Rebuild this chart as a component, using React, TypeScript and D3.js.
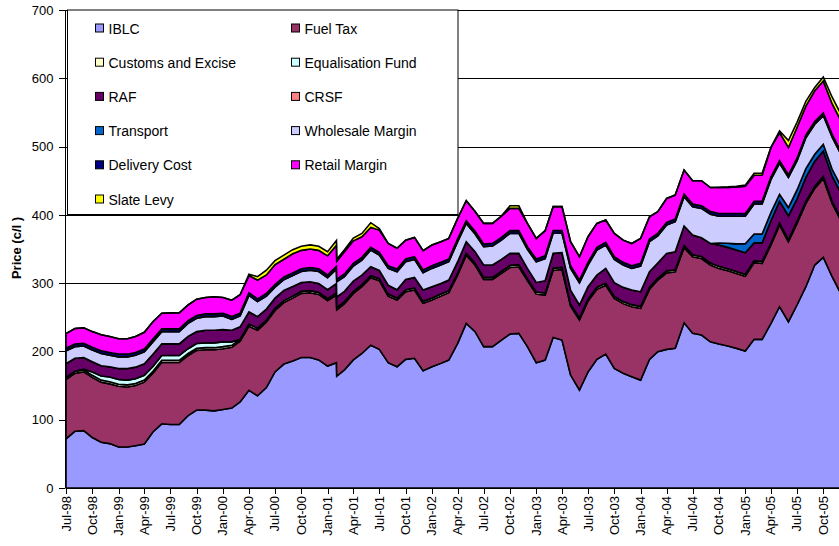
import React from "react";
import * as d3 from "d3";

// price build-up, cents per litre, monthly (Feb-01 has two entries)
const dates = [
  "1998-07-01", "1998-08-01", "1998-09-01", "1998-10-01", "1998-11-01", "1998-12-01",
  "1999-01-01", "1999-02-01", "1999-03-01", "1999-04-01", "1999-05-01", "1999-06-01",
  "1999-07-01", "1999-08-01", "1999-09-01", "1999-10-01", "1999-11-01", "1999-12-01",
  "2000-01-01", "2000-02-01", "2000-03-01", "2000-04-01", "2000-05-01", "2000-06-01",
  "2000-07-01", "2000-08-01", "2000-09-01", "2000-10-01", "2000-11-01", "2000-12-01",
  "2001-01-01", "2001-02-01", "2001-02-02", "2001-03-01", "2001-04-01", "2001-05-01",
  "2001-06-01", "2001-07-01", "2001-08-01", "2001-09-01", "2001-10-01", "2001-11-01",
  "2001-12-01", "2002-01-01", "2002-02-01", "2002-03-01", "2002-04-01", "2002-05-01",
  "2002-06-01", "2002-07-01", "2002-08-01", "2002-09-01", "2002-10-01", "2002-11-01",
  "2002-12-01", "2003-01-01", "2003-02-01", "2003-03-01", "2003-04-01", "2003-05-01",
  "2003-06-01", "2003-07-01", "2003-08-01", "2003-09-01", "2003-10-01", "2003-11-01",
  "2003-12-01", "2004-01-01", "2004-02-01", "2004-03-01", "2004-04-01", "2004-05-01",
  "2004-06-01", "2004-07-01", "2004-08-01", "2004-09-01", "2004-10-01", "2004-11-01",
  "2004-12-01", "2005-01-01", "2005-02-01", "2005-03-01", "2005-04-01", "2005-05-01",
  "2005-06-01", "2005-07-01", "2005-08-01", "2005-09-01", "2005-10-01", "2005-11-01",
  "2005-12-01",
];

const iblc = [
  72, 83, 84, 74, 67, 65, 60, 60, 62, 64.5, 82, 94, 93, 93, 106, 114, 114, 113, 115, 117,
  126, 143, 135, 147, 170, 181.5, 186, 191, 191, 187.5, 178.6, 183.5, 164,
  173, 187.5, 197, 209, 203, 183.5, 177.6, 188.4,
  190, 171.8, 177.6, 182.5, 187.4, 211.8, 241, 228.9, 207, 207,
  216.7, 225.5, 226.5, 207, 183.5, 187.4, 220.6, 216.7, 165.4, 143.5,
  170, 188.4, 196, 175, 168, 163, 158, 188.4, 199.6, 203,
  204.5, 242, 226.5, 224, 214, 210.8, 208, 204.5, 200.6, 217.7,
  217.7, 241, 265.5, 243.5, 268, 294.8, 326.5, 337.7, 309.4, 285,
];

const fuelTax = [
  87, 85, 86, 88, 88, 87.5, 89, 88, 88, 90.5, 86, 90, 91, 91, 88, 87.5, 88.5, 89.5, 89, 89,
  89, 94, 96, 96, 90, 90, 92, 94, 95, 96, 96, 99, 97,
  97, 97.5, 97.8, 99, 100.6, 97.5, 97.7, 99.1,
  100, 98.6, 97.7, 98.5, 98.6, 100.1, 100, 97.6, 98.5, 98.5,
  97.6, 97.5, 97.5, 96.6, 100.5, 95.2, 98.4, 103.3, 101.1, 102.5,
  104, 102.6, 101, 102.7, 102, 102.5, 105, 102.6, 104.9, 112,
  112.2, 110, 112.2, 112, 112.5, 110.8, 110, 109.5, 109.4, 112.3,
  111.3, 114.8, 119.5, 117.2, 119.5, 122, 112.2, 115.7, 107.4, 107.4,
];

const customs = [
  3, 3, 3, 3, 3, 3, 3, 3, 3, 3, 3, 3, 3, 3, 3, 3, 3, 3, 3, 3,
  3, 3, 3, 3, 3, 3, 3, 3, 3, 3, 3, 3, 3,
  3, 3, 3, 3, 3, 3, 3, 3,
  3, 3, 3, 3, 3, 3, 3, 3, 3, 3,
  3, 3, 3, 3, 3, 3, 3, 3, 3, 3,
  3, 3, 3, 3, 3, 3, 3, 3, 3, 3,
  3, 3, 3, 3, 3, 3, 3, 3, 3, 3,
  3, 3, 3, 3, 3, 3, 3, 3, 3, 3,
];

const equalisation = [
  0, 0, 1, 5, 6, 7, 7, 7, 7, 7, 7, 7, 7, 7, 7, 7, 7, 7, 7, 5,
  0, 0, 0, 0, 0, 0, 0, 0, 0, 0, 0, 0, 0,
  0, 0, 0, 0, 0, 0, 0, 0,
  0, 0, 0, 0, 0, 0, 0, 0, 0, 0,
  0, 0, 0, 0, 0, 0, 0, 0, 0, 0,
  0, 0, 0, 0, 0, 0, 0, 0, 0, 0,
  0, 0, 0, 0, 0, 0, 0, 0, 0, 0,
  0, 0, 0, 0, 0, 0, 0, 0, 0, 0,
];

const raf = [
  20, 19, 17, 15, 15, 15, 16, 17, 17, 17, 18, 17, 17, 17, 18, 17.5, 18.5, 18.5, 18, 17,
  18, 18, 17, 16, 15, 15, 14, 13, 13, 13, 13, 14, 16,
  15, 15, 14, 13, 12, 13, 12, 15,
  15.4, 16.6, 16.5, 15.6, 15.5, 16.5, 16.7, 16.5, 18, 18,
  17.5, 17.6, 16.6, 15, 14, 18, 21.6, 21.6, 20.4, 19,
  17.8, 17.9, 21.6, 19.9, 20.8, 21.5, 21.5, 22.7, 22, 25.6,
  26.3, 28.6, 28.7, 27.5, 28.5, 31.2, 31.4, 31.5, 31.6, 26,
  27, 33, 32, 35, 33, 35, 37, 37, 37, 37,
];

const crsf = [
  0, 0, 0, 0, 0, 0, 0, 0, 0, 0, 0, 0, 0, 0, 0, 0, 0, 0, 0, 0,
  0, 0, 0, 0, 0, 0, 0, 0, 0, 0, 0, 0, 0,
  0, 0, 0, 0, 0, 0, 0, 0,
  0, 0, 0, 0, 0, 0, 0, 0, 0, 0,
  0, 0, 0, 0, 0, 0, 0, 0, 0, 0,
  0, 0, 0, 0, 0, 0, 0, 0, 0, 0,
  0, 0, 0, 0, 0, 0, 0, 0, 0, 0,
  0, 0, 0, 0, 0, 0, 0, 0, 0, 0,
];

const transport = [
  0, 0, 0, 0, 0, 0, 0, 0, 0, 0, 0, 0, 0, 0, 0, 0, 0, 0, 0, 0,
  0, 0, 0, 0, 0, 0, 0, 0, 0, 0, 0, 0, 0,
  0, 0, 0, 0, 0, 0, 0, 0,
  0, 0, 0, 0, 0, 0, 0, 0, 0, 0,
  0, 0, 0, 0, 0, 0, 0, 0, 0, 0,
  0, 0, 0, 0, 0, 0, 0, 0, 0, 0,
  0, 0, 0, 0, 0, 3, 6, 9, 13, 13,
  13, 12, 10, 12, 13, 13, 10, 10, 10, 10,
];

const wholesale = [
  19, 17, 17, 17, 18, 17, 17, 17, 17.5, 17.5, 18, 18, 18, 18, 19, 19.5, 20, 20, 20, 16,
  16, 24, 22, 19, 16, 15.5, 16, 16, 17, 17.5, 17.4, 21, 22,
  21.4, 22, 22, 24.5, 22.4, 24.6, 26.4, 25.9,
  26.4, 25.3, 26.8, 26.9, 26.9, 29.3, 26.8, 26, 26.8, 27.8,
  28.2, 29.3, 29.3, 27.8, 30.4, 32.4, 29.4, 28.4, 31.7, 32.6,
  31.7, 36.6, 34.2, 34.2, 32.7, 31.6, 37.5, 44, 39.5, 41.4,
  44, 42.9, 41.6, 43, 43, 39.2, 39.6, 40.5, 40.4, 43.8,
  43.8, 48, 45.4, 44, 42.5, 45, 44, 42, 47, 47,
];

const delivery = [
  4, 4, 4, 4, 4, 4, 4, 4, 4, 4, 4, 4, 4, 4, 4, 4, 4, 4, 4, 4,
  4, 4, 4, 4, 4, 4, 4, 4, 4, 4, 4, 4, 4,
  4, 4, 4, 4, 4, 4, 4, 4,
  4, 4, 4, 4, 4, 4, 4, 4, 4, 4,
  4, 4, 4, 4, 4, 4, 4, 4, 4, 4,
  4, 4, 4, 4, 4, 4, 4, 4, 4, 4,
  4, 4, 4, 4, 4, 4, 4, 4, 4, 4,
  4, 4, 4, 4, 4, 4, 4, 4, 4, 4,
];

const retail = [
  21, 22.5, 22.5, 23, 23.5, 23.5, 22.5, 22.5, 23.5, 24.5, 25.5, 23, 23.5, 23.5, 23, 24, 24, 25, 23, 24,
  27, 25, 27.5, 27, 29, 26, 28, 27, 27, 27, 28, 31, 26,
  32.6, 33, 30, 29, 32.7, 32.6, 30.3, 27.6,
  28.2, 28.2, 30.2, 30.2, 30.1, 30.1, 29.2, 29, 30.2, 29.2,
  31.2, 32.6, 32.6, 34.1, 30.1, 36.8, 35, 35, 35.1, 34.1,
  37.5, 35, 32.6, 34.1, 32.5, 32.4, 36.5, 32.6, 31.6, 35,
  35, 35.1, 34, 36.5, 35, 38, 38, 39, 40, 38.2,
  38.2, 43, 41, 40, 45, 42.5, 45, 46.5, 45, 45,
];

const slate = [
  0, 0, 0, 0, 0, 0, 0, 0, 0, 0, 0, 0, 0, 0, 0, 0, 0, 0, 0, 0,
  0, 2, 5, 7, 6, 6, 6, 6, 6, 6, 6, 7, 3,
  3, 4, 5, 7, 2.3, 0, 0, 0,
  0, 0, 0, 0, 0, 0, 0, 0, 0, 0,
  0, 3.9, 3.9, 0, 0, 0, 0, 0, 0, 0,
  0, 0, 0, 0, 0, 0, 0, 0, 0, 0,
  0, 0, 0, 0, 0, 0.5, 1, 1, 1.5, 3,
  3, 0, 2.5, 10, 7.5, 7, 5, 6, 9.5, 9.5,
];

const seriesNames = [
  "IBLC", "Fuel Tax", "Customs and Excise", "Equalisation Fund", "RAF", "CRSF",
  "Transport", "Wholesale Margin", "Delivery Cost", "Retail Margin", "Slate Levy",
];
const seriesValues = [
  iblc, fuelTax, customs, equalisation, raf, crsf,
  transport, wholesale, delivery, retail, slate,
];
const seriesColors = [
  "#9999FF", "#993366", "#FFFFCC", "#CCFFFF", "#660066", "#FF8080",
  "#0066CC", "#CCCCFF", "#000080", "#FF00FF", "#FFFF00",
];

const yTicks = [0, 100, 200, 300, 400, 500, 600, 700];

const font = "'Liberation Sans', Arial, Helvetica, sans-serif";

export default function App() {
  const width = 839;
  const height = 546;
  const plotLeft = 66;
  const plotBottom = 488;

  const parse = d3.utcParse("%Y-%m-%d");
  const fmt = d3.utcFormat("%b-%y");

  const x = d3
    .scaleUtc()
    .domain([new Date(Date.UTC(1998, 6, 1)), new Date(Date.UTC(2005, 9, 1))])
    .range([plotLeft, 823.3]);
  const y = d3.scaleLinear().domain([0, 700]).range([plotBottom, 10]);

  const rows = dates.map((d, i) => {
    const r: any = { date: parse(d) };
    seriesNames.forEach((k, j) => (r[k] = seriesValues[j][i]));
    return r;
  });

  const stacked = d3.stack<any>().keys(seriesNames)(rows);

  const area = d3
    .area<any>()
    .x((d) => x(d.data.date))
    .y0((d) => y(d[0]))
    .y1((d) => y(d[1]));

  const xTicks = d3.utcMonth
    .every(3)!
    .range(new Date(Date.UTC(1998, 6, 1)), new Date(Date.UTC(2005, 10, 1)));

  // legend layout
  const legX = 67.5;
  const legY = 10;
  const legW = 390.5;
  const legH = 204.5;
  const colX = [95, 291];
  const rowY0 = 28.5;
  const rowStep = 34.2;

  return (
    <svg
      width={width}
      height={height}
      style={{ position: "absolute", left: 0, top: 0, background: "#fff" }}
      fontFamily={font}
    >
      <defs>
        <clipPath id="plotClip">
          <rect x={plotLeft} y={0} width={width} height={plotBottom} />
        </clipPath>
      </defs>

      {/* grid */}
      {yTicks.slice(1).map((t) => (
        <line
          key={"g" + t}
          x1={plotLeft}
          x2={width}
          y1={Math.round(y(t)) + 0.5}
          y2={Math.round(y(t)) + 0.5}
          stroke="#000"
          strokeWidth={1}
        />
      ))}

      {/* stacked areas */}
      <g clipPath="url(#plotClip)">
        {stacked.map((s, i) => (
          <path
            key={s.key}
            d={area(s) || ""}
            fill={seriesColors[i]}
            stroke="#000"
            strokeWidth={1.6}
            strokeLinejoin="miter"
          />
        ))}
      </g>

      {/* y axis */}
      <line x1={65.5} x2={65.5} y1={10} y2={plotBottom} stroke="#000" strokeWidth={1} />
      {yTicks.map((t) => (
        <g key={"y" + t}>
          <line
            x1={59}
            x2={65.5}
            y1={Math.round(y(t)) + 0.5}
            y2={Math.round(y(t)) + 0.5}
            stroke="#000"
          />
          <text
            x={53.5}
            y={y(t)}
            dy="0.36em"
            textAnchor="end"
            fontSize={13}
            fill="#000"
          >
            {t}
          </text>
        </g>
      ))}
      <text
        transform={`translate(21,248) rotate(-90)`}
        textAnchor="middle"
        fontSize={13}
        fontWeight="bold"
        fill="#000"
      >
        Price (c/l )
      </text>

      {/* x axis */}
      <line x1={plotLeft} x2={width} y1={plotBottom + 0.5} y2={plotBottom + 0.5} stroke="#000" />
      {xTicks.map((t) => (
        <g key={"x" + t.getTime()}>
          <line
            x1={Math.round(x(t)) + 0.5}
            x2={Math.round(x(t)) + 0.5}
            y1={plotBottom}
            y2={plotBottom + 6}
            stroke="#000"
          />
          <text
            transform={`translate(${x(t) + 4.5},496) rotate(-90)`}
            textAnchor="end"
            fontSize={13}
            fill="#000"
          >
            {fmt(t)}
          </text>
        </g>
      ))}

      {/* legend */}
      <rect
        x={legX}
        y={legY}
        width={legW}
        height={legH}
        fill="#fff"
        stroke="#000"
        strokeWidth={1}
      />
      {seriesNames.map((name, i) => {
        const cx = colX[i % 2];
        const cy = rowY0 + Math.floor(i / 2) * rowStep;
        return (
          <g key={"l" + name}>
            <rect
              x={cx + 0.5}
              y={cy - 4.5}
              width={8}
              height={8}
              fill={seriesColors[i]}
              stroke="#000"
              strokeWidth={1}
            />
            <text x={cx + 13.5} y={cy} dy="0.36em" fontSize={14} fill="#000">
              {name}
            </text>
          </g>
        );
      })}
    </svg>
  );
}
